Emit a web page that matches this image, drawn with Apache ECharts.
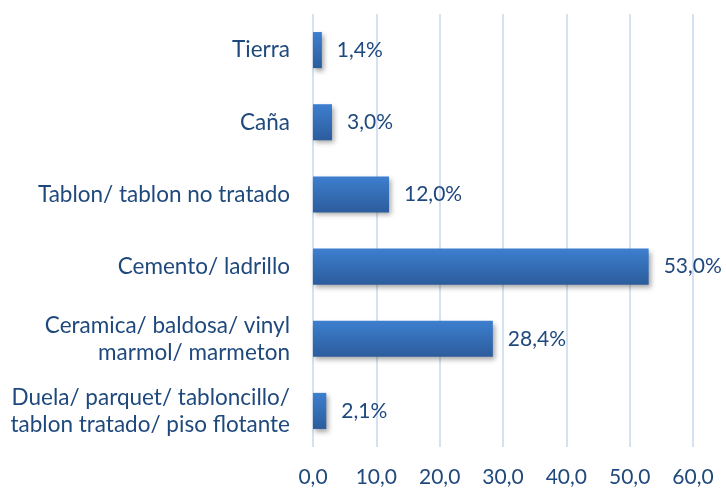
<!DOCTYPE html>
<html><head><meta charset="utf-8">
<script src="https://cdn.jsdelivr.net/npm/echarts@6/dist/echarts.min.js"></script>
<style>html,body{margin:0;padding:0;background:#fff}#c{width:726px;height:488px}</style>
</head><body><div id="c"></div>
<script>
var categories = ["Duela/ parquet/ tabloncillo/\ntablon tratado/ piso flotante", "Ceramica/ baldosa/ vinyl\nmarmol/ marmeton", "Cemento/ ladrillo", "Tablon/ tablon no tratado", "Caña", "Tierra"];
var values = [2.1, 28.4, 53.0, 12.0, 3.0, 1.4];
var xTicks = ["0,0", "10,0", "20,0", "30,0", "40,0", "50,0", "60,0"];
var txt = '#1f497d';
var font = 'Lato';
var chart = echarts.init(document.getElementById('c'));
chart.setOption({
  animation: false,
  grid: {left: 313, right: 33, top: 14, bottom: 41, outerBoundsMode: 'none', containLabel: false},
  xAxis: {
    type: 'value', min: 0, max: 60, interval: 10,
    axisLine: {show: false}, axisTick: {show: false},
    splitLine: {lineStyle: {color: '#d5e2f3', width: 2}},
    axisLabel: {color: txt, fontFamily: font, fontSize: 21, margin: 20,
      formatter: function (v) { return xTicks[Math.round(v / 10)]; }}
  },
  yAxis: {
    type: 'category', data: categories,
    axisLine: {show: false}, axisTick: {show: false},
    axisLabel: {color: txt, fontFamily: font, fontSize: 22.5, margin: 23, lineHeight: 27, align: 'right'}
  },
  series: [{
    type: 'bar', data: values, barCategoryGap: '50%',
    itemStyle: {
      color: new echarts.graphic.LinearGradient(0, 0, 0, 1, [
        {offset: 0, color: '#3d7fcf'}, {offset: 1, color: '#2c5c9c'}]),
      shadowColor: 'rgba(0,0,0,0.35)', shadowBlur: 5, shadowOffsetX: 2, shadowOffsetY: 3
    },
    label: {show: true, position: 'right', distance: 15, color: txt, fontFamily: font, fontSize: 21,
      formatter: function (p) { return p.value.toFixed(1).replace('.', ',') + '%'; }}
  }]
});
</script></body></html>
